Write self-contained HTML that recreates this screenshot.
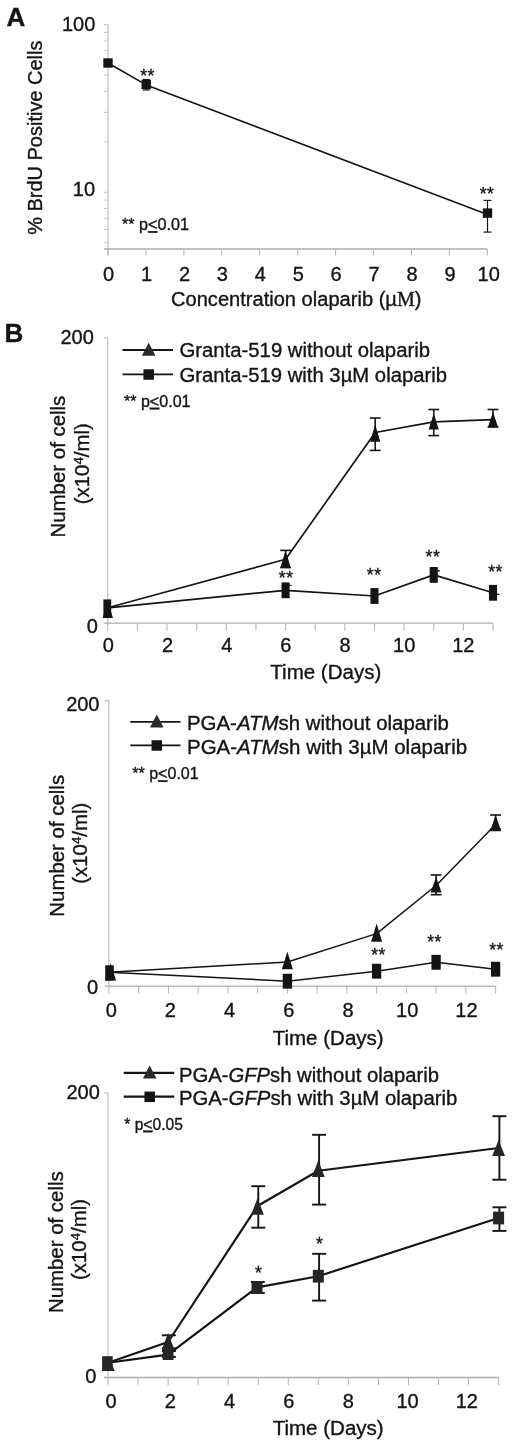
<!DOCTYPE html>
<html><head><meta charset="utf-8"><title>Figure</title>
<style>
html,body{margin:0;padding:0;background:#fff;}
body{width:520px;height:1444px;overflow:hidden;font-family:"Liberation Sans",sans-serif;}
svg text{stroke:#141414;stroke-width:0.35px;}
svg{display:block;will-change:transform;font-family:"Liberation Sans",sans-serif;}
</style></head><body>
<svg width="520" height="1444" viewBox="0 0 520 1444">
<rect width="520" height="1444" fill="#ffffff"/>
<text x="6.4" y="26.4" font-size="26" text-anchor="start" font-weight="bold" fill="#141414" >A</text>
<line x1="108" y1="24.7" x2="108" y2="255.5" stroke="#b2b2b2" stroke-width="1" stroke-linecap="butt"/>
<line x1="104" y1="249" x2="487.3" y2="249" stroke="#adadad" stroke-width="1.3" stroke-linecap="butt"/>
<line x1="104" y1="24.7" x2="108" y2="24.7" stroke="#c4c4c4" stroke-width="1" stroke-linecap="butt"/>
<line x1="104" y1="32.36895541796917" x2="108" y2="32.36895541796917" stroke="#c4c4c4" stroke-width="1" stroke-linecap="butt"/>
<line x1="104" y1="40.94211818015026" x2="108" y2="40.94211818015026" stroke="#c4c4c4" stroke-width="1" stroke-linecap="butt"/>
<line x1="104" y1="50.66156849361054" x2="108" y2="50.66156849361054" stroke="#c4c4c4" stroke-width="1" stroke-linecap="butt"/>
<line x1="104" y1="61.881850435701324" x2="108" y2="61.881850435701324" stroke="#c4c4c4" stroke-width="1" stroke-linecap="butt"/>
<line x1="104" y1="75.15262727328326" x2="108" y2="75.15262727328326" stroke="#c4c4c4" stroke-width="1" stroke-linecap="butt"/>
<line x1="104" y1="91.39474545343349" x2="108" y2="91.39474545343349" stroke="#c4c4c4" stroke-width="1" stroke-linecap="butt"/>
<line x1="104" y1="112.33447770898458" x2="108" y2="112.33447770898458" stroke="#c4c4c4" stroke-width="1" stroke-linecap="butt"/>
<line x1="104" y1="141.84737272671674" x2="108" y2="141.84737272671674" stroke="#c4c4c4" stroke-width="1" stroke-linecap="butt"/>
<line x1="104" y1="192.29999999999998" x2="108" y2="192.29999999999998" stroke="#c4c4c4" stroke-width="1" stroke-linecap="butt"/>
<line x1="104" y1="199.96895541796914" x2="108" y2="199.96895541796914" stroke="#c4c4c4" stroke-width="1" stroke-linecap="butt"/>
<line x1="104" y1="208.54211818015025" x2="108" y2="208.54211818015025" stroke="#c4c4c4" stroke-width="1" stroke-linecap="butt"/>
<line x1="104" y1="218.26156849361053" x2="108" y2="218.26156849361053" stroke="#c4c4c4" stroke-width="1" stroke-linecap="butt"/>
<line x1="104" y1="229.48185043570132" x2="108" y2="229.48185043570132" stroke="#c4c4c4" stroke-width="1" stroke-linecap="butt"/>
<line x1="104" y1="242.75262727328325" x2="108" y2="242.75262727328325" stroke="#c4c4c4" stroke-width="1" stroke-linecap="butt"/>
<line x1="108.0" y1="249" x2="108.0" y2="255.5" stroke="#b2b2b2" stroke-width="1" stroke-linecap="butt"/>
<text x="108.6" y="280.6" font-size="20" text-anchor="middle" font-weight="normal" fill="#141414" >0</text>
<line x1="145.93" y1="249" x2="145.93" y2="255.5" stroke="#b2b2b2" stroke-width="1" stroke-linecap="butt"/>
<text x="146.53" y="280.6" font-size="20" text-anchor="middle" font-weight="normal" fill="#141414" >1</text>
<line x1="183.86" y1="249" x2="183.86" y2="255.5" stroke="#b2b2b2" stroke-width="1" stroke-linecap="butt"/>
<text x="184.46" y="280.6" font-size="20" text-anchor="middle" font-weight="normal" fill="#141414" >2</text>
<line x1="221.79" y1="249" x2="221.79" y2="255.5" stroke="#b2b2b2" stroke-width="1" stroke-linecap="butt"/>
<text x="222.39" y="280.6" font-size="20" text-anchor="middle" font-weight="normal" fill="#141414" >3</text>
<line x1="259.72" y1="249" x2="259.72" y2="255.5" stroke="#b2b2b2" stroke-width="1" stroke-linecap="butt"/>
<text x="260.32000000000005" y="280.6" font-size="20" text-anchor="middle" font-weight="normal" fill="#141414" >4</text>
<line x1="297.65" y1="249" x2="297.65" y2="255.5" stroke="#b2b2b2" stroke-width="1" stroke-linecap="butt"/>
<text x="298.25" y="280.6" font-size="20" text-anchor="middle" font-weight="normal" fill="#141414" >5</text>
<line x1="335.58" y1="249" x2="335.58" y2="255.5" stroke="#b2b2b2" stroke-width="1" stroke-linecap="butt"/>
<text x="336.18" y="280.6" font-size="20" text-anchor="middle" font-weight="normal" fill="#141414" >6</text>
<line x1="373.51" y1="249" x2="373.51" y2="255.5" stroke="#b2b2b2" stroke-width="1" stroke-linecap="butt"/>
<text x="374.11" y="280.6" font-size="20" text-anchor="middle" font-weight="normal" fill="#141414" >7</text>
<line x1="411.44" y1="249" x2="411.44" y2="255.5" stroke="#b2b2b2" stroke-width="1" stroke-linecap="butt"/>
<text x="412.04" y="280.6" font-size="20" text-anchor="middle" font-weight="normal" fill="#141414" >8</text>
<line x1="449.37" y1="249" x2="449.37" y2="255.5" stroke="#b2b2b2" stroke-width="1" stroke-linecap="butt"/>
<text x="449.97" y="280.6" font-size="20" text-anchor="middle" font-weight="normal" fill="#141414" >9</text>
<line x1="487.3" y1="249" x2="487.3" y2="255.5" stroke="#b2b2b2" stroke-width="1" stroke-linecap="butt"/>
<text x="488.7" y="280.6" font-size="20" text-anchor="middle" font-weight="normal" fill="#141414" >10</text>
<text x="95.3" y="30.6" font-size="20" text-anchor="end" font-weight="normal" fill="#141414" >100</text>
<text x="95.1" y="196.4" font-size="20" text-anchor="end" font-weight="normal" fill="#141414" >10</text>
<text transform="translate(42.4,137.7) rotate(-90)" font-size="20" text-anchor="middle" fill="#141414" textLength="194.2" lengthAdjust="spacingAndGlyphs">% BrdU Positive Cells</text>
<text x="171" y="306" font-size="20" fill="#141414" textLength="250.5" lengthAdjust="spacingAndGlyphs">Concentration olaparib (µ<tspan font-family="Liberation Serif, serif">M</tspan>)</text>
<text x="122" y="230.2" font-size="16" fill="#141414" textLength="67" lengthAdjust="spacingAndGlyphs">** p<tspan text-decoration="underline">&lt;</tspan>0.01</text>
<line x1="146.23000000000002" y1="79.5" x2="146.23000000000002" y2="90" stroke="#141414" stroke-width="1.2" stroke-linecap="butt"/>
<line x1="142.73000000000002" y1="79.5" x2="149.73000000000002" y2="79.5" stroke="#141414" stroke-width="1.2" stroke-linecap="butt"/>
<line x1="142.73000000000002" y1="90" x2="149.73000000000002" y2="90" stroke="#141414" stroke-width="1.2" stroke-linecap="butt"/>
<line x1="487.5" y1="200.4" x2="487.5" y2="232.1" stroke="#141414" stroke-width="1.2" stroke-linecap="butt"/>
<line x1="483.5" y1="200.4" x2="491.5" y2="200.4" stroke="#141414" stroke-width="1.2" stroke-linecap="butt"/>
<line x1="483.5" y1="232.1" x2="491.5" y2="232.1" stroke="#141414" stroke-width="1.2" stroke-linecap="butt"/>
<polyline points="108,63 146.23000000000002,84.9 487.5,214.6" fill="none" stroke="#141414" stroke-width="1.6" stroke-linejoin="round"/>
<rect x="103.3" y="58.3" width="9.4" height="9.4" fill="#141414"/>
<rect x="141.53000000000003" y="79.8" width="9.4" height="9.4" fill="#141414"/>
<rect x="482.8" y="208.4" width="9.4" height="9.4" fill="#141414"/>
<text x="147.5" y="81.9" font-size="17.6" text-anchor="middle" font-weight="normal" fill="#141414" letter-spacing="0.5">**</text>
<text x="487.0" y="200.1" font-size="17.6" text-anchor="middle" font-weight="normal" fill="#141414" letter-spacing="0.5">**</text>
<text x="4.4" y="342.0" font-size="26" text-anchor="start" font-weight="bold" fill="#141414" >B</text>
<line x1="107.8" y1="338" x2="107.8" y2="630.7" stroke="#b2b2b2" stroke-width="1" stroke-linecap="butt"/>
<line x1="103.8" y1="623.2" x2="493" y2="623.2" stroke="#adadad" stroke-width="1.3" stroke-linecap="butt"/>
<line x1="103.8" y1="338" x2="107.8" y2="338" stroke="#b2b2b2" stroke-width="1" stroke-linecap="butt"/>
<line x1="137.43076923076922" y1="623.2" x2="137.43076923076922" y2="630.7" stroke="#b2b2b2" stroke-width="1" stroke-linecap="butt"/>
<line x1="167.06153846153845" y1="623.2" x2="167.06153846153845" y2="630.7" stroke="#b2b2b2" stroke-width="1" stroke-linecap="butt"/>
<line x1="196.69230769230768" y1="623.2" x2="196.69230769230768" y2="630.7" stroke="#b2b2b2" stroke-width="1" stroke-linecap="butt"/>
<line x1="226.3230769230769" y1="623.2" x2="226.3230769230769" y2="630.7" stroke="#b2b2b2" stroke-width="1" stroke-linecap="butt"/>
<line x1="255.95384615384614" y1="623.2" x2="255.95384615384614" y2="630.7" stroke="#b2b2b2" stroke-width="1" stroke-linecap="butt"/>
<line x1="285.58461538461535" y1="623.2" x2="285.58461538461535" y2="630.7" stroke="#b2b2b2" stroke-width="1" stroke-linecap="butt"/>
<line x1="315.2153846153846" y1="623.2" x2="315.2153846153846" y2="630.7" stroke="#b2b2b2" stroke-width="1" stroke-linecap="butt"/>
<line x1="344.8461538461538" y1="623.2" x2="344.8461538461538" y2="630.7" stroke="#b2b2b2" stroke-width="1" stroke-linecap="butt"/>
<line x1="374.4769230769231" y1="623.2" x2="374.4769230769231" y2="630.7" stroke="#b2b2b2" stroke-width="1" stroke-linecap="butt"/>
<line x1="404.1076923076923" y1="623.2" x2="404.1076923076923" y2="630.7" stroke="#b2b2b2" stroke-width="1" stroke-linecap="butt"/>
<line x1="433.73846153846154" y1="623.2" x2="433.73846153846154" y2="630.7" stroke="#b2b2b2" stroke-width="1" stroke-linecap="butt"/>
<line x1="463.36923076923074" y1="623.2" x2="463.36923076923074" y2="630.7" stroke="#b2b2b2" stroke-width="1" stroke-linecap="butt"/>
<line x1="493.0" y1="623.2" x2="493.0" y2="630.7" stroke="#b2b2b2" stroke-width="1" stroke-linecap="butt"/>
<text x="108.4" y="651.6" font-size="20" text-anchor="middle" font-weight="normal" fill="#141414" >0</text>
<text x="167.56" y="651.6" font-size="20" text-anchor="middle" font-weight="normal" fill="#141414" >2</text>
<text x="226.72" y="651.6" font-size="20" text-anchor="middle" font-weight="normal" fill="#141414" >4</text>
<text x="285.88" y="651.6" font-size="20" text-anchor="middle" font-weight="normal" fill="#141414" >6</text>
<text x="345.03999999999996" y="651.6" font-size="20" text-anchor="middle" font-weight="normal" fill="#141414" >8</text>
<text x="404.19999999999993" y="651.6" font-size="20" text-anchor="middle" font-weight="normal" fill="#141414" >10</text>
<text x="463.36" y="651.6" font-size="20" text-anchor="middle" font-weight="normal" fill="#141414" >12</text>
<text x="93.8" y="343.6" font-size="20" text-anchor="end" font-weight="normal" fill="#141414" >200</text>
<text x="97.8" y="632.7" font-size="20" text-anchor="end" font-weight="normal" fill="#141414" >0</text>
<text x="325.8" y="678.5" font-size="20" text-anchor="middle" font-weight="normal" fill="#141414" textLength="111" lengthAdjust="spacingAndGlyphs" >Time (Days)</text>
<text transform="translate(64.9,466.6) rotate(-90)" font-size="20" text-anchor="middle" fill="#141414" textLength="141.8" lengthAdjust="spacingAndGlyphs">Number of cells</text>
<text transform="translate(88.5,463.7) rotate(-90)" font-size="20.4" text-anchor="middle" fill="#141414">(x10<tspan font-size="13.3" dy="-5.8">4</tspan><tspan dy="5.8">/ml)</tspan></text>
<line x1="122.5" y1="350" x2="173" y2="350" stroke="#141414" stroke-width="1.8" stroke-linecap="butt"/>
<polygon points="148.7,342.7 155.5,355.7 141.89999999999998,355.7" fill="#2a2a2a"/>
<line x1="122.5" y1="374.3" x2="173" y2="374.3" stroke="#141414" stroke-width="1.8" stroke-linecap="butt"/>
<rect x="143.45" y="369.25" width="10.5" height="10.5" fill="#141414"/>
<text x="179.5" y="357.4" font-size="20" fill="#141414" textLength="250.5" lengthAdjust="spacingAndGlyphs">Granta-519 without olaparib</text>
<text x="179.5" y="382.1" font-size="20" fill="#141414" textLength="267.5" lengthAdjust="spacingAndGlyphs">Granta-519 with 3µM olaparib</text>
<text x="124" y="406.8" font-size="16" fill="#141414" textLength="66.5" lengthAdjust="spacingAndGlyphs">** p<tspan text-decoration="underline">&lt;</tspan>0.01</text>
<line x1="285.58461538461535" y1="550.4" x2="285.58461538461535" y2="567.6" stroke="#141414" stroke-width="1.6" stroke-linecap="butt"/>
<line x1="280.18461538461537" y1="550.4" x2="290.9846153846153" y2="550.4" stroke="#141414" stroke-width="1.6" stroke-linecap="butt"/>
<line x1="280.18461538461537" y1="567.6" x2="290.9846153846153" y2="567.6" stroke="#141414" stroke-width="1.6" stroke-linecap="butt"/>
<line x1="375.2176923076923" y1="418" x2="375.2176923076923" y2="450.4" stroke="#141414" stroke-width="1.6" stroke-linecap="butt"/>
<line x1="369.8176923076923" y1="418" x2="380.61769230769227" y2="418" stroke="#141414" stroke-width="1.6" stroke-linecap="butt"/>
<line x1="369.8176923076923" y1="450.4" x2="380.61769230769227" y2="450.4" stroke="#141414" stroke-width="1.6" stroke-linecap="butt"/>
<line x1="433.73846153846154" y1="409.5" x2="433.73846153846154" y2="435.6" stroke="#141414" stroke-width="1.6" stroke-linecap="butt"/>
<line x1="428.33846153846156" y1="409.5" x2="439.1384615384615" y2="409.5" stroke="#141414" stroke-width="1.6" stroke-linecap="butt"/>
<line x1="428.33846153846156" y1="435.6" x2="439.1384615384615" y2="435.6" stroke="#141414" stroke-width="1.6" stroke-linecap="butt"/>
<line x1="493.0" y1="409.5" x2="493.0" y2="427" stroke="#141414" stroke-width="1.6" stroke-linecap="butt"/>
<line x1="487.6" y1="409.5" x2="498.4" y2="409.5" stroke="#141414" stroke-width="1.6" stroke-linecap="butt"/>
<line x1="487.6" y1="427" x2="498.4" y2="427" stroke="#141414" stroke-width="1.6" stroke-linecap="butt"/>
<polyline points="107.8,607.8 285.58461538461535,559.2 375.2176923076923,432.5 433.73846153846154,421.8 493.0,419.6" fill="none" stroke="#141414" stroke-width="1.7" stroke-linejoin="round"/>
<polyline points="107.8,607.8 285.58461538461535,590.3 374.4769230769231,596 433.73846153846154,574.9 493.0,592.8" fill="none" stroke="#141414" stroke-width="1.7" stroke-linejoin="round"/>
<polygon points="107.8,600.0 112.89999999999999,617.9 102.7,617.9" fill="#141414"/>
<polygon points="285.58461538461535,550.4 290.68461538461537,567.4 280.4846153846153,567.4" fill="#141414"/>
<polygon points="375.2176923076923,424.5 380.3176923076923,441.8 370.11769230769227,441.8" fill="#141414"/>
<polygon points="433.73846153846154,413.5 438.83846153846156,429.5 428.6384615384615,429.5" fill="#141414"/>
<polygon points="493.0,412.0 498.1,427.3 487.9,427.3" fill="#141414"/>
<rect x="103.39999999999999" y="599.4" width="7.8" height="18.5" fill="#141414"/>
<rect x="281.53461538461534" y="582.4" width="8.1" height="15.8" fill="#141414"/>
<rect x="370.42692307692306" y="588.1" width="8.1" height="15.8" fill="#141414"/>
<rect x="429.6884615384615" y="567.0" width="8.1" height="15.8" fill="#141414"/>
<rect x="488.95" y="584.9" width="8.1" height="15.8" fill="#141414"/>
<text x="286.2" y="583.9" font-size="17.6" text-anchor="middle" font-weight="normal" fill="#141414" letter-spacing="0.5">**</text>
<text x="374.2" y="580.9" font-size="17.6" text-anchor="middle" font-weight="normal" fill="#141414" letter-spacing="0.5">**</text>
<text x="432.9" y="562.6999999999999" font-size="17.6" text-anchor="middle" font-weight="normal" fill="#141414" letter-spacing="0.5">**</text>
<text x="495.59999999999997" y="578.3" font-size="17.6" text-anchor="middle" font-weight="normal" fill="#141414" letter-spacing="0.5">**</text>
<line x1="289.5" y1="585.4" x2="291.6" y2="585.4" stroke="#141414" stroke-width="1.3" stroke-linecap="butt"/>
<line x1="437" y1="570.7" x2="439.9" y2="570.7" stroke="#141414" stroke-width="1.3" stroke-linecap="butt"/>
<line x1="496.5" y1="594.3" x2="499.4" y2="594.3" stroke="#141414" stroke-width="1.3" stroke-linecap="butt"/>
<line x1="108.9" y1="700.7" x2="108.9" y2="993.6" stroke="#b2b2b2" stroke-width="1" stroke-linecap="butt"/>
<line x1="104.9" y1="986.1" x2="495.6" y2="986.1" stroke="#adadad" stroke-width="1.3" stroke-linecap="butt"/>
<line x1="104.9" y1="700.7" x2="108.9" y2="700.7" stroke="#b2b2b2" stroke-width="1" stroke-linecap="butt"/>
<line x1="138.64615384615385" y1="986.1" x2="138.64615384615385" y2="993.6" stroke="#b2b2b2" stroke-width="1" stroke-linecap="butt"/>
<line x1="168.3923076923077" y1="986.1" x2="168.3923076923077" y2="993.6" stroke="#b2b2b2" stroke-width="1" stroke-linecap="butt"/>
<line x1="198.13846153846157" y1="986.1" x2="198.13846153846157" y2="993.6" stroke="#b2b2b2" stroke-width="1" stroke-linecap="butt"/>
<line x1="227.88461538461542" y1="986.1" x2="227.88461538461542" y2="993.6" stroke="#b2b2b2" stroke-width="1" stroke-linecap="butt"/>
<line x1="257.63076923076926" y1="986.1" x2="257.63076923076926" y2="993.6" stroke="#b2b2b2" stroke-width="1" stroke-linecap="butt"/>
<line x1="287.3769230769231" y1="986.1" x2="287.3769230769231" y2="993.6" stroke="#b2b2b2" stroke-width="1" stroke-linecap="butt"/>
<line x1="317.12307692307695" y1="986.1" x2="317.12307692307695" y2="993.6" stroke="#b2b2b2" stroke-width="1" stroke-linecap="butt"/>
<line x1="346.8692307692308" y1="986.1" x2="346.8692307692308" y2="993.6" stroke="#b2b2b2" stroke-width="1" stroke-linecap="butt"/>
<line x1="376.61538461538464" y1="986.1" x2="376.61538461538464" y2="993.6" stroke="#b2b2b2" stroke-width="1" stroke-linecap="butt"/>
<line x1="406.36153846153854" y1="986.1" x2="406.36153846153854" y2="993.6" stroke="#b2b2b2" stroke-width="1" stroke-linecap="butt"/>
<line x1="436.10769230769233" y1="986.1" x2="436.10769230769233" y2="993.6" stroke="#b2b2b2" stroke-width="1" stroke-linecap="butt"/>
<line x1="465.85384615384623" y1="986.1" x2="465.85384615384623" y2="993.6" stroke="#b2b2b2" stroke-width="1" stroke-linecap="butt"/>
<line x1="495.6" y1="986.1" x2="495.6" y2="993.6" stroke="#b2b2b2" stroke-width="1" stroke-linecap="butt"/>
<text x="111.2" y="1016.5" font-size="20" text-anchor="middle" font-weight="normal" fill="#141414" >0</text>
<text x="170.4" y="1016.5" font-size="20" text-anchor="middle" font-weight="normal" fill="#141414" >2</text>
<text x="229.60000000000002" y="1016.5" font-size="20" text-anchor="middle" font-weight="normal" fill="#141414" >4</text>
<text x="288.8" y="1016.5" font-size="20" text-anchor="middle" font-weight="normal" fill="#141414" >6</text>
<text x="348.0" y="1016.5" font-size="20" text-anchor="middle" font-weight="normal" fill="#141414" >8</text>
<text x="407.2" y="1016.5" font-size="20" text-anchor="middle" font-weight="normal" fill="#141414" >10</text>
<text x="466.40000000000003" y="1016.5" font-size="20" text-anchor="middle" font-weight="normal" fill="#141414" >12</text>
<text x="99.5" y="711.2" font-size="20" text-anchor="end" font-weight="normal" fill="#141414" >200</text>
<text x="98.0" y="993.9" font-size="20" text-anchor="end" font-weight="normal" fill="#141414" >0</text>
<text x="328.2" y="1044.9" font-size="20" text-anchor="middle" font-weight="normal" fill="#141414" textLength="111" lengthAdjust="spacingAndGlyphs" >Time (Days)</text>
<text transform="translate(64.2,845.8) rotate(-90)" font-size="20" text-anchor="middle" fill="#141414" textLength="141.8" lengthAdjust="spacingAndGlyphs">Number of cells</text>
<text transform="translate(86.5,843.2) rotate(-90)" font-size="20.4" text-anchor="middle" fill="#141414">(x10<tspan font-size="13.3" dy="-5.8">4</tspan><tspan dy="5.8">/ml)</tspan></text>
<line x1="130.3" y1="721.8" x2="180.5" y2="721.8" stroke="#141414" stroke-width="1.8" stroke-linecap="butt"/>
<polygon points="156.8,714.5 163.60000000000002,727.5 150.0,727.5" fill="#2a2a2a"/>
<line x1="130.3" y1="745.3" x2="180.5" y2="745.3" stroke="#141414" stroke-width="1.8" stroke-linecap="butt"/>
<rect x="151.55" y="740.25" width="10.5" height="10.5" fill="#141414"/>
<text x="187.0" y="729.7" font-size="20" fill="#141414" textLength="261.8" lengthAdjust="spacingAndGlyphs">PGA-<tspan font-style="italic">ATM</tspan>sh without olaparib</text>
<text x="187.0" y="753.5" font-size="20" fill="#141414" textLength="280.1" lengthAdjust="spacingAndGlyphs">PGA-<tspan font-style="italic">ATM</tspan>sh with 3µM olaparib</text>
<text x="132.2" y="779.3" font-size="16" fill="#141414" textLength="66.5" lengthAdjust="spacingAndGlyphs">** p<tspan text-decoration="underline">&lt;</tspan>0.01</text>
<line x1="436.10769230769233" y1="875" x2="436.10769230769233" y2="894.7" stroke="#141414" stroke-width="1.6" stroke-linecap="butt"/>
<line x1="430.70769230769235" y1="875" x2="441.5076923076923" y2="875" stroke="#141414" stroke-width="1.6" stroke-linecap="butt"/>
<line x1="430.70769230769235" y1="894.7" x2="441.5076923076923" y2="894.7" stroke="#141414" stroke-width="1.6" stroke-linecap="butt"/>
<line x1="495.6" y1="815" x2="495.6" y2="829" stroke="#141414" stroke-width="1.6" stroke-linecap="butt"/>
<line x1="490.20000000000005" y1="815" x2="501.0" y2="815" stroke="#141414" stroke-width="1.6" stroke-linecap="butt"/>
<line x1="490.20000000000005" y1="829" x2="501.0" y2="829" stroke="#141414" stroke-width="1.6" stroke-linecap="butt"/>
<polyline points="108.9,972.2 287.3769230769231,962 376.61538461538464,933.6 436.10769230769233,885.5 495.6,824.4" fill="none" stroke="#141414" stroke-width="1.5" stroke-linejoin="round"/>
<polyline points="108.9,972.2 287.3769230769231,981.2 376.61538461538464,971.2 436.10769230769233,962.3 495.6,969.2" fill="none" stroke="#141414" stroke-width="1.5" stroke-linejoin="round"/>
<polygon points="110.60000000000001,963.3 116.10000000000001,980.6 105.10000000000001,980.6" fill="#141414"/>
<polygon points="287.3769230769231,951.4 292.8769230769231,969.2 281.8769230769231,969.2" fill="#141414"/>
<polygon points="376.61538461538464,923.5 382.11538461538464,941.8 371.11538461538464,941.8" fill="#141414"/>
<polygon points="436.10769230769233,877.0 441.60769230769233,892.4 430.60769230769233,892.4" fill="#141414"/>
<polygon points="495.6,815.0 501.1,831.2 490.1,831.2" fill="#141414"/>
<rect x="105.2" y="965.35" width="8.6" height="15.3" fill="#141414"/>
<rect x="282.72692307692313" y="973.75" width="9.3" height="14.9" fill="#141414"/>
<rect x="371.96538461538466" y="963.75" width="9.3" height="14.9" fill="#141414"/>
<rect x="431.45769230769235" y="954.8499999999999" width="9.3" height="14.9" fill="#141414"/>
<rect x="490.95000000000005" y="961.75" width="9.3" height="14.9" fill="#141414"/>
<text x="378.5" y="961.1" font-size="17.6" text-anchor="middle" font-weight="normal" fill="#141414" letter-spacing="0.5">**</text>
<text x="434.5" y="948.1" font-size="17.6" text-anchor="middle" font-weight="normal" fill="#141414" letter-spacing="0.5">**</text>
<text x="496.5" y="955.9" font-size="17.6" text-anchor="middle" font-weight="normal" fill="#141414" letter-spacing="0.5">**</text>
<line x1="108.0" y1="1093" x2="108.0" y2="1385.0" stroke="#b2b2b2" stroke-width="1" stroke-linecap="butt"/>
<line x1="104.0" y1="1377.5" x2="498.6" y2="1377.5" stroke="#adadad" stroke-width="1.3" stroke-linecap="butt"/>
<line x1="104.0" y1="1093" x2="108.0" y2="1093" stroke="#b2b2b2" stroke-width="1" stroke-linecap="butt"/>
<line x1="138.04615384615386" y1="1377.5" x2="138.04615384615386" y2="1385.0" stroke="#b2b2b2" stroke-width="1" stroke-linecap="butt"/>
<line x1="168.0923076923077" y1="1377.5" x2="168.0923076923077" y2="1385.0" stroke="#b2b2b2" stroke-width="1" stroke-linecap="butt"/>
<line x1="198.13846153846154" y1="1377.5" x2="198.13846153846154" y2="1385.0" stroke="#b2b2b2" stroke-width="1" stroke-linecap="butt"/>
<line x1="228.1846153846154" y1="1377.5" x2="228.1846153846154" y2="1385.0" stroke="#b2b2b2" stroke-width="1" stroke-linecap="butt"/>
<line x1="258.2307692307693" y1="1377.5" x2="258.2307692307693" y2="1385.0" stroke="#b2b2b2" stroke-width="1" stroke-linecap="butt"/>
<line x1="288.2769230769231" y1="1377.5" x2="288.2769230769231" y2="1385.0" stroke="#b2b2b2" stroke-width="1" stroke-linecap="butt"/>
<line x1="318.32307692307694" y1="1377.5" x2="318.32307692307694" y2="1385.0" stroke="#b2b2b2" stroke-width="1" stroke-linecap="butt"/>
<line x1="348.3692307692308" y1="1377.5" x2="348.3692307692308" y2="1385.0" stroke="#b2b2b2" stroke-width="1" stroke-linecap="butt"/>
<line x1="378.41538461538465" y1="1377.5" x2="378.41538461538465" y2="1385.0" stroke="#b2b2b2" stroke-width="1" stroke-linecap="butt"/>
<line x1="408.4615384615385" y1="1377.5" x2="408.4615384615385" y2="1385.0" stroke="#b2b2b2" stroke-width="1" stroke-linecap="butt"/>
<line x1="438.50769230769237" y1="1377.5" x2="438.50769230769237" y2="1385.0" stroke="#b2b2b2" stroke-width="1" stroke-linecap="butt"/>
<line x1="468.55384615384617" y1="1377.5" x2="468.55384615384617" y2="1385.0" stroke="#b2b2b2" stroke-width="1" stroke-linecap="butt"/>
<line x1="498.6" y1="1377.5" x2="498.6" y2="1385.0" stroke="#b2b2b2" stroke-width="1" stroke-linecap="butt"/>
<text x="111.0" y="1407.5" font-size="20" text-anchor="middle" font-weight="normal" fill="#141414" >0</text>
<text x="170.3" y="1407.5" font-size="20" text-anchor="middle" font-weight="normal" fill="#141414" >2</text>
<text x="229.6" y="1407.5" font-size="20" text-anchor="middle" font-weight="normal" fill="#141414" >4</text>
<text x="288.9" y="1407.5" font-size="20" text-anchor="middle" font-weight="normal" fill="#141414" >6</text>
<text x="348.2" y="1407.5" font-size="20" text-anchor="middle" font-weight="normal" fill="#141414" >8</text>
<text x="407.5" y="1407.5" font-size="20" text-anchor="middle" font-weight="normal" fill="#141414" >10</text>
<text x="466.79999999999995" y="1407.5" font-size="20" text-anchor="middle" font-weight="normal" fill="#141414" >12</text>
<text x="99.8" y="1098.6" font-size="20" text-anchor="end" font-weight="normal" fill="#141414" >200</text>
<text x="96.3" y="1383.0" font-size="20" text-anchor="end" font-weight="normal" fill="#141414" >0</text>
<text x="328.2" y="1434.7" font-size="20" text-anchor="middle" font-weight="normal" fill="#141414" textLength="111" lengthAdjust="spacingAndGlyphs" >Time (Days)</text>
<text transform="translate(62.9,1242.2) rotate(-90)" font-size="20" text-anchor="middle" fill="#141414" textLength="141.8" lengthAdjust="spacingAndGlyphs">Number of cells</text>
<text transform="translate(86,1239.5) rotate(-90)" font-size="20.4" text-anchor="middle" fill="#141414">(x10<tspan font-size="13.3" dy="-5.8">4</tspan><tspan dy="5.8">/ml)</tspan></text>
<line x1="123.7" y1="1072.9" x2="174.2" y2="1072.9" stroke="#141414" stroke-width="2.1" stroke-linecap="butt"/>
<polygon points="149.7,1065.6000000000001 156.5,1078.6000000000001 142.89999999999998,1078.6000000000001" fill="#2a2a2a"/>
<line x1="123.7" y1="1096.6" x2="174.2" y2="1096.6" stroke="#141414" stroke-width="2.1" stroke-linecap="butt"/>
<rect x="144.45" y="1091.55" width="10.5" height="10.5" fill="#141414"/>
<text x="178.9" y="1081.5" font-size="20" fill="#141414" textLength="260.1" lengthAdjust="spacingAndGlyphs">PGA-<tspan font-style="italic">GFP</tspan>sh without olaparib</text>
<text x="178.9" y="1105.2" font-size="20" fill="#141414" textLength="278.4" lengthAdjust="spacingAndGlyphs">PGA-<tspan font-style="italic">GFP</tspan>sh with 3µM olaparib</text>
<text x="124.3" y="1129.6" font-size="16" fill="#141414" textLength="58.5" lengthAdjust="spacingAndGlyphs">* p<tspan text-decoration="underline">&lt;</tspan>0.05</text>
<line x1="168.89230769230772" y1="1335.3" x2="168.89230769230772" y2="1348.3" stroke="#141414" stroke-width="1.9" stroke-linecap="butt"/>
<line x1="161.89230769230772" y1="1335.3" x2="175.89230769230772" y2="1335.3" stroke="#141414" stroke-width="1.9" stroke-linecap="butt"/>
<line x1="161.89230769230772" y1="1348.3" x2="175.89230769230772" y2="1348.3" stroke="#141414" stroke-width="1.9" stroke-linecap="butt"/>
<line x1="258.2796153846154" y1="1186.2" x2="258.2796153846154" y2="1227.7" stroke="#141414" stroke-width="1.9" stroke-linecap="butt"/>
<line x1="251.2796153846154" y1="1186.2" x2="265.2796153846154" y2="1186.2" stroke="#141414" stroke-width="1.9" stroke-linecap="butt"/>
<line x1="251.2796153846154" y1="1227.7" x2="265.2796153846154" y2="1227.7" stroke="#141414" stroke-width="1.9" stroke-linecap="butt"/>
<line x1="319.12307692307695" y1="1134.8" x2="319.12307692307695" y2="1204.6" stroke="#141414" stroke-width="1.9" stroke-linecap="butt"/>
<line x1="312.12307692307695" y1="1134.8" x2="326.12307692307695" y2="1134.8" stroke="#141414" stroke-width="1.9" stroke-linecap="butt"/>
<line x1="312.12307692307695" y1="1204.6" x2="326.12307692307695" y2="1204.6" stroke="#141414" stroke-width="1.9" stroke-linecap="butt"/>
<line x1="499.40000000000003" y1="1116.2" x2="499.40000000000003" y2="1179.7" stroke="#141414" stroke-width="1.9" stroke-linecap="butt"/>
<line x1="492.40000000000003" y1="1116.2" x2="506.40000000000003" y2="1116.2" stroke="#141414" stroke-width="1.9" stroke-linecap="butt"/>
<line x1="492.40000000000003" y1="1179.7" x2="506.40000000000003" y2="1179.7" stroke="#141414" stroke-width="1.9" stroke-linecap="butt"/>
<line x1="168.89230769230772" y1="1351.1" x2="168.89230769230772" y2="1356.9" stroke="#141414" stroke-width="1.9" stroke-linecap="butt"/>
<line x1="161.89230769230772" y1="1351.1" x2="175.89230769230772" y2="1351.1" stroke="#141414" stroke-width="1.9" stroke-linecap="butt"/>
<line x1="161.89230769230772" y1="1356.9" x2="175.89230769230772" y2="1356.9" stroke="#141414" stroke-width="1.9" stroke-linecap="butt"/>
<line x1="257.8289230769231" y1="1282" x2="257.8289230769231" y2="1293" stroke="#141414" stroke-width="1.9" stroke-linecap="butt"/>
<line x1="250.8289230769231" y1="1282" x2="264.8289230769231" y2="1282" stroke="#141414" stroke-width="1.9" stroke-linecap="butt"/>
<line x1="250.8289230769231" y1="1293" x2="264.8289230769231" y2="1293" stroke="#141414" stroke-width="1.9" stroke-linecap="butt"/>
<line x1="319.12307692307695" y1="1253.8" x2="319.12307692307695" y2="1300.6" stroke="#141414" stroke-width="1.9" stroke-linecap="butt"/>
<line x1="312.12307692307695" y1="1253.8" x2="326.12307692307695" y2="1253.8" stroke="#141414" stroke-width="1.9" stroke-linecap="butt"/>
<line x1="312.12307692307695" y1="1300.6" x2="326.12307692307695" y2="1300.6" stroke="#141414" stroke-width="1.9" stroke-linecap="butt"/>
<line x1="499.40000000000003" y1="1207.3" x2="499.40000000000003" y2="1230.9" stroke="#141414" stroke-width="1.9" stroke-linecap="butt"/>
<line x1="492.40000000000003" y1="1207.3" x2="506.40000000000003" y2="1207.3" stroke="#141414" stroke-width="1.9" stroke-linecap="butt"/>
<line x1="492.40000000000003" y1="1230.9" x2="506.40000000000003" y2="1230.9" stroke="#141414" stroke-width="1.9" stroke-linecap="butt"/>
<polyline points="108.0,1362.8 168.0923076923077,1342 257.4796153846154,1206 318.32307692307694,1170.8 498.6,1148" fill="none" stroke="#141414" stroke-width="2.15" stroke-linejoin="round"/>
<polyline points="108.0,1362.8 168.0923076923077,1354.6 257.0289230769231,1287.4 318.32307692307694,1276.2 498.6,1218" fill="none" stroke="#141414" stroke-width="2.15" stroke-linejoin="round"/>
<polygon points="108.4,1356.2 114.80000000000001,1370.9 102.0,1370.9" fill="#262626"/>
<polygon points="168.0923076923077,1333 174.49230769230772,1350 161.6923076923077,1350" fill="#262626"/>
<polygon points="257.4796153846154,1198.3 263.87961538461536,1214.8 251.07961538461538,1214.8" fill="#262626"/>
<polygon points="318.32307692307694,1160.3 324.7230769230769,1177.0 311.92307692307696,1177.0" fill="#262626"/>
<polygon points="498.6,1140 505.0,1156 492.20000000000005,1156" fill="#262626"/>
<rect x="102.10000000000001" y="1356.2" width="10.6" height="14.7" fill="#262626"/>
<rect x="162.6923076923077" y="1348.4" width="10.8" height="11.6" fill="#262626"/>
<rect x="251.5289230769231" y="1281.0" width="11" height="12.8" fill="#262626"/>
<rect x="312.82307692307694" y="1269.8" width="11" height="12.8" fill="#262626"/>
<rect x="493.1" y="1211.6" width="11" height="12.8" fill="#262626"/>
<text x="258.7" y="1278.6000000000001" font-size="17.6" text-anchor="middle" font-weight="normal" fill="#141414" letter-spacing="0.5">*</text>
<text x="319.8" y="1249.8000000000002" font-size="17.6" text-anchor="middle" font-weight="normal" fill="#141414" letter-spacing="0.5">*</text>
</svg>
</body></html>
